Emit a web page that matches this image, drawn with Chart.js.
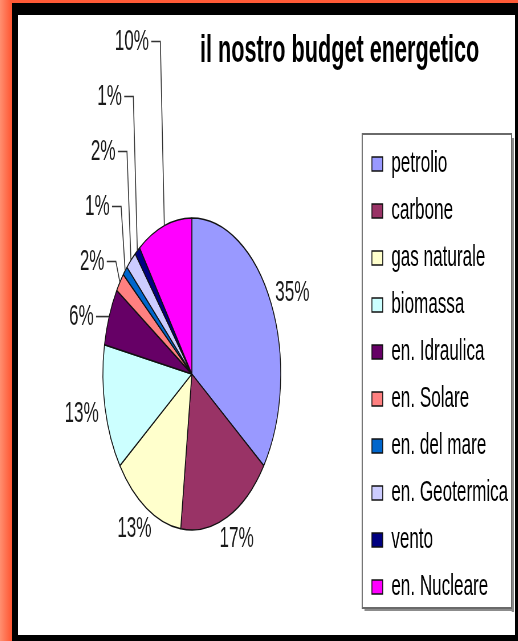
<!DOCTYPE html>
<html>
<head>
<meta charset="utf-8">
<script src="https://cdn.jsdelivr.net/npm/chart.js@4.4.1/dist/chart.umd.min.js"></script>
<style>
  html, body { margin: 0; padding: 0; }
  body {
    width: 518px; height: 641px; position: relative; overflow: hidden;
    background: linear-gradient(to right, #ff8f70 0px, #ff5a36 11px);
  }
  #frame { position: absolute; left: 12px; top: 3px; right: 0; bottom: 0; background: #000; }
  #panel { position: absolute; left: 18px; top: 15px; width: 497px; height: 620px; background: #fff; overflow: hidden; }
  #chart { position: absolute; left: 0; top: 0; }
  #title {
    position: absolute; left: 182px; top: 15px;
    font: bold 38px "Liberation Sans", Arial, sans-serif; line-height: 38px;
    color: #000; white-space: nowrap;
    transform: scaleX(0.57); transform-origin: 0 0;
  }
</style>
</head>
<body>
<div id="frame"></div>
<div id="panel">
  <canvas id="chart" width="872" height="620" style="width:497px;height:620px"></canvas>
  <div id="title">il nostro budget energetico</div>
</div>
<script>
// dati del grafico
const categories = ['petrolio', 'carbone', 'gas naturale', 'biomassa', 'en. Idraulica',
                    'en. Solare', 'en. del mare', 'en. Geotermica', 'vento', 'en. Nucleare'];
const shares = [35, 17, 13, 13, 6, 2, 1, 2, 1, 10];
const sliceColors = ['#9999ff', '#993366', '#ffffcc', '#ccffff', '#660066',
                     '#ff8080', '#0066cc', '#ccccff', '#000080', '#ff00ff'];

const FONT = '"Liberation Sans", Arial, sans-serif';

// etichette percentuali: fuori dalla torta, con linee guida per le fette piccole
const pieLabels = {
  id: 'pieLabels',
  afterDatasetsDraw(chart) {
    const ctx = chart.ctx;
    const arcs = chart.getDatasetMeta(0).data;
    const total = shares.reduce((a, b) => a + b, 0);
    ctx.save();
    ctx.font = '30px ' + FONT;
    ctx.fillStyle = '#1a1a1a';
    ctx.strokeStyle = '#333';
    ctx.lineWidth = 1.6;
    ctx.textBaseline = 'middle';
    const leaders = [];
    arcs.forEach((arc, i) => {
      const p = arc.getProps(['x', 'y', 'startAngle', 'endAngle', 'outerRadius'], true);
      const mid = (p.startAngle + p.endAngle) / 2;
      const dx = Math.cos(mid), dy = Math.sin(mid);
      const text = Math.round(shares[i] / total * 100) + '%';
      if (shares[i] <= 10) {
        leaders.push({ ax: p.x + dx * p.outerRadius, ay: p.y + dy * p.outerRadius, text });
      } else {
        const w = ctx.measureText(text).width;
        const r = p.outerRadius + 12;
        ctx.textAlign = 'center';
        ctx.fillText(text, p.x + dx * r + dx * w / 2, p.y + dy * r + dy * 12);
      }
    });
    // impila le etichette verso l'alto partendo dalla fetta più bassa
    leaders.sort((a, b) => b.ay - a.ay);
    let prevY = Infinity;
    leaders.forEach(l => {
      const ly = Math.min(l.ay, prevY - 55);
      prevY = ly;
      const right = l.ax - 27;
      const elbow = l.ax - 7;
      ctx.textAlign = 'right';
      ctx.fillText(l.text, right, ly);
      ctx.beginPath();
      ctx.moveTo(right + 4, ly);
      ctx.lineTo(elbow, ly);
      ctx.lineTo(l.ax, l.ay);
      ctx.stroke();
    });
    ctx.restore();
  }
};

// cornice della legenda con ombra
const legendFrame = {
  id: 'legendFrame',
  afterDraw(chart) {
    const ctx = chart.ctx;
    const lg = chart.legend;
    const boxes = lg.legendHitBoxes;
    const first = boxes[0], last = boxes[boxes.length - 1];
    const left = lg.left, right = lg.right - 4;
    const top = first.top - 15, bottom = last.top + last.height + 6;
    ctx.save();
    ctx.fillStyle = '#8c8c8c';
    ctx.fillRect(left + 4, bottom, right - left, 3);
    ctx.fillRect(right, top + 4, 4, bottom - top);
    ctx.strokeStyle = '#6a6a6a';
    ctx.lineWidth = 2;
    ctx.strokeRect(left, top, right - left, bottom - top);
    ctx.restore();
  }
};

new Chart(document.getElementById('chart'), {
  type: 'pie',
  data: {
    labels: categories,
    datasets: [{
      data: shares,
      backgroundColor: sliceColors,
      borderColor: '#111',
      borderWidth: 1.5,
      radius: 156
    }]
  },
  options: {
    responsive: false,
    devicePixelRatio: 1,
    animation: false,
    layout: { padding: { left: 6, right: 2, top: 114, bottom: 16 } },
    plugins: {
      title: { display: false },
      tooltip: { enabled: false },
      legend: {
        position: 'right',
        align: 'end',
        labels: {
          color: '#000',
          font: { family: FONT, size: 30 },
          boxWidth: 19,
          boxHeight: 14,
          padding: 17
        }
      }
    }
  },
  plugins: [pieLabels, legendFrame]
});
</script>
</body>
</html>
